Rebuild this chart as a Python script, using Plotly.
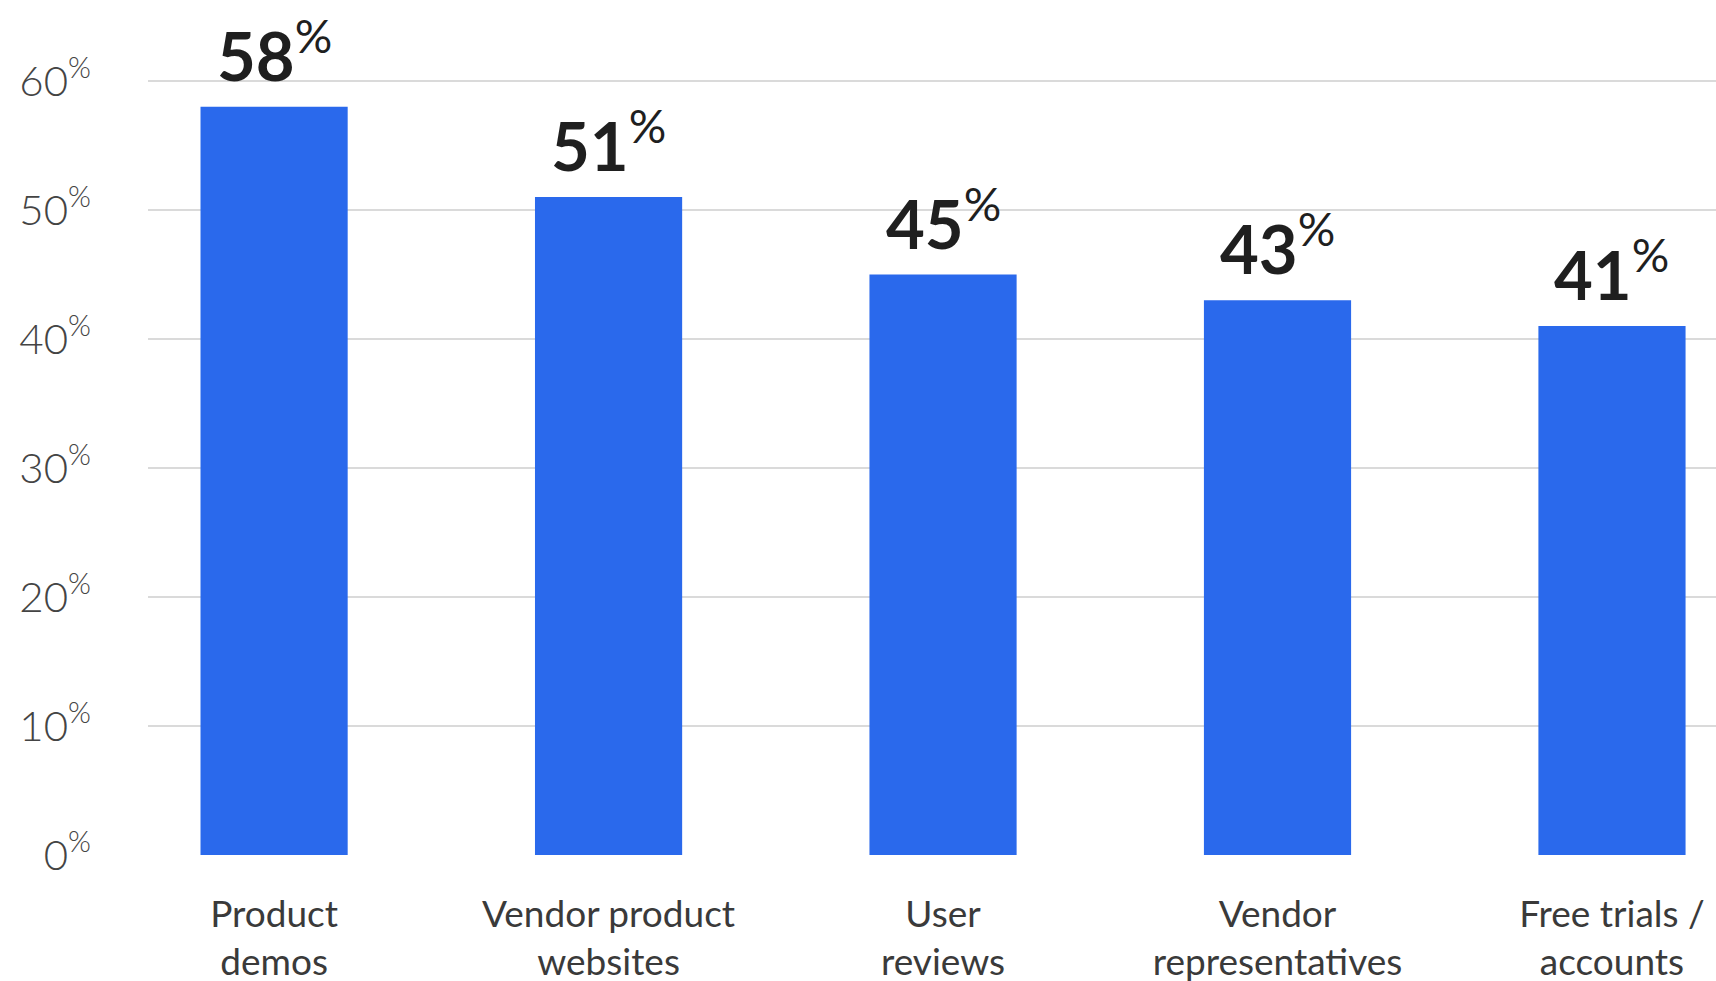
import plotly.graph_objects as go

# Survey results: share of respondents using each source
categories = [
    "Product<br>demos",
    "Vendor product<br>websites",
    "User<br>reviews",
    "Vendor<br>representatives",
    "Free trials /<br>accounts",
]
values = [58, 51, 45, 43, 41]

y_ticks = [0, 10, 20, 30, 40, 50, 60]
y_tick_labels = [f"{v}<sup>%</sup>" for v in y_ticks]

BAR_COLOR = "#2A69EC"
GRID_COLOR = "#DADADA"
FONT = "Lato"

fig = go.Figure(
    go.Bar(
        x=categories,
        y=values,
        width=0.44,
        marker=dict(color=BAR_COLOR, line=dict(width=0)),
        hoverinfo="skip",
    )
)

# Value labels above each bar: bold number, regular-weight percent sign
for cat, v in zip(categories, values):
    fig.add_annotation(
        x=cat,
        y=v,
        text=f"<b>{v}</b><sup>%</sup>",
        showarrow=False,
        xanchor="center",
        yanchor="bottom",
        yshift=10,
        font=dict(family=FONT, size=67, color="#1F1F1F"),
    )

fig.update_layout(
    width=1716,
    height=981,
    margin=dict(l=148, r=0, t=0, b=126),
    paper_bgcolor="white",
    plot_bgcolor="white",
    showlegend=False,
    font=dict(family=FONT),
)

fig.update_xaxes(
    range=[-0.377, 4.311],
    automargin=False,
    showgrid=False,
    showline=False,
    zeroline=False,
    ticks="",
    tickfont=dict(family=FONT, size=37, color="#3A3A3A"),
    ticklabelstandoff=34,
)

fig.update_yaxes(
    range=[0, 66.28],
    automargin=False,
    tickvals=y_ticks,
    ticktext=y_tick_labels,
    showgrid=True,
    gridcolor=GRID_COLOR,
    gridwidth=2,
    zeroline=False,
    showline=False,
    ticks="",
    tickfont=dict(family=FONT, size=42, color="#444444", weight=300),
    ticklabelstandoff=56,
)

fig.write_html("out.html")
